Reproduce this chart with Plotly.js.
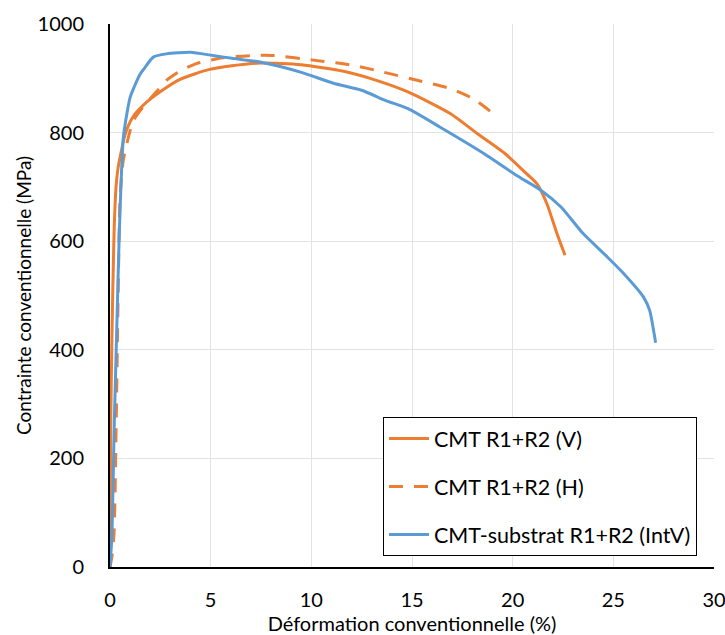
<!DOCTYPE html>
<html><head><meta charset="utf-8">
<script src="https://cdn.plot.ly/plotly-3.0.1.min.js"></script>
<style>html,body{margin:0;padding:0;background:#fff}#c{width:725px;height:635px}</style>
</head><body><div id="c"></div>
<script>
const seriesNames = ["CMT R1+R2 (V)", "CMT R1+R2 (H)", "CMT-substrat R1+R2 (IntV)"];
const vX = [0, 0.03, 0.1, 0.2, 0.3, 0.4, 0.53, 0.7, 0.9, 1.2, 1.82, 2.6, 3.48, 4.2, 4.9, 6.05, 7.45, 9.5, 11.6, 13, 14.8, 16.9, 18.25, 19.6, 20.7, 21.2, 21.7, 22.2, 22.6];
const vY = [0, 246, 430, 614, 700, 735, 760, 790, 812, 832, 856, 878, 898, 908, 916, 923, 928, 925, 913, 899, 875, 835, 798, 762, 724, 706, 669, 614, 574];
const hX = [0, 0.1, 0.2, 0.3, 0.4, 0.5, 0.66, 1.16, 1.7, 2.3, 2.8, 3.5, 4.3, 5.6, 7.1, 8.1, 10.2, 12.06, 13.5, 15.3, 16.9, 18.06, 19.1];
const hY = [0, 20, 62, 246, 491, 680, 749, 822, 850, 875, 896, 914, 927, 938, 942, 942, 933, 924, 912, 896, 881, 862, 833];
const iX = [0, 0.1, 0.2, 0.33, 0.46, 0.58, 0.66, 0.75, 1.0, 1.2, 1.5, 1.68, 2.15, 2.8, 4.0, 5.1, 6.05, 7.45, 9.5, 11.1, 12.5, 13.7, 14.8, 16.4, 18.55, 20.2, 21.4, 22.4, 23.5, 24.7, 25.5, 26.5, 26.8, 27.1];
const iY = [0, 62, 246, 430, 614, 736, 790, 815, 865, 884, 908, 917, 939, 945, 948, 942, 937, 930, 911, 891, 878, 859, 844, 810, 762, 721, 694, 663, 614, 571, 541, 497, 473, 413];
const xTicks = [0, 5, 10, 15, 20, 25, 30];
const yTicks = [0, 200, 400, 600, 800, 1000];

const FONT = 'Lato, "Open Sans", sans-serif';
const orange = '#ED7D31', blue = '#5B9BD5';
const traces = [
  {x: vX, y: vY, name: seriesNames[0], mode: 'lines', line: {color: orange, width: 3, shape: 'spline', smoothing: 0.6}, legendgroup: 'a'},
  {x: hX, y: hY, name: seriesNames[1], mode: 'lines', line: {color: orange, width: 3, dash: '14px,11px', shape: 'spline', smoothing: 0.6}, legendgroup: 'b'},
  {x: iX, y: iY, name: seriesNames[2], mode: 'lines', line: {color: blue, width: 3, shape: 'spline', smoothing: 0.6}, legendgroup: 'c'}
];
const layout = {
  width: 725, height: 635,
  margin: {l: 110, r: 11, t: 24, b: 68},
  paper_bgcolor: '#fff', plot_bgcolor: '#fff',
  font: {family: FONT, size: 20, color: '#000'},
  showlegend: true,
  legend: {x: 0.452, y: 0.276, xanchor: 'left', yanchor: 'top', bgcolor: '#fff', bordercolor: '#000', borderwidth: 1,
           font: {family: FONT, size: 21.5, color: '#000'}, tracegroupgap: 17, traceorder: 'grouped', itemwidth: 40},
  xaxis: {range: [0, 30], tickvals: xTicks, ticktext: xTicks.map(String), showgrid: true, gridcolor: '#e3e3e3', gridwidth: 1,
          zeroline: false, showline: true, linecolor: '#000', linewidth: 2, ticks: 'outside', ticklen: 14, tickcolor: 'rgba(0,0,0,0)',
          ticklabeloverflow: 'allow',
          tickfont: {family: FONT, size: 20, color: '#000'},
          title: {text: 'Déformation conventionnelle (%)', font: {family: FONT, size: 20, color: '#000'}, standoff: 4}},
  yaxis: {range: [0, 1000], tickvals: yTicks, ticktext: yTicks.map(String), showgrid: true, gridcolor: '#e3e3e3', gridwidth: 1,
          zeroline: false, showline: true, linecolor: '#000', linewidth: 2, ticks: 'outside', ticklen: 20, tickcolor: 'rgba(0,0,0,0)',
          tickfont: {family: FONT, size: 20, color: '#000'},
          title: {text: 'Contrainte conventionnelle (MPa)', font: {family: FONT, size: 19, color: '#000'}, standoff: 1}}
};
Plotly.newPlot('c', traces, layout, {displayModeBar: false, staticPlot: true});
</script></body></html>
